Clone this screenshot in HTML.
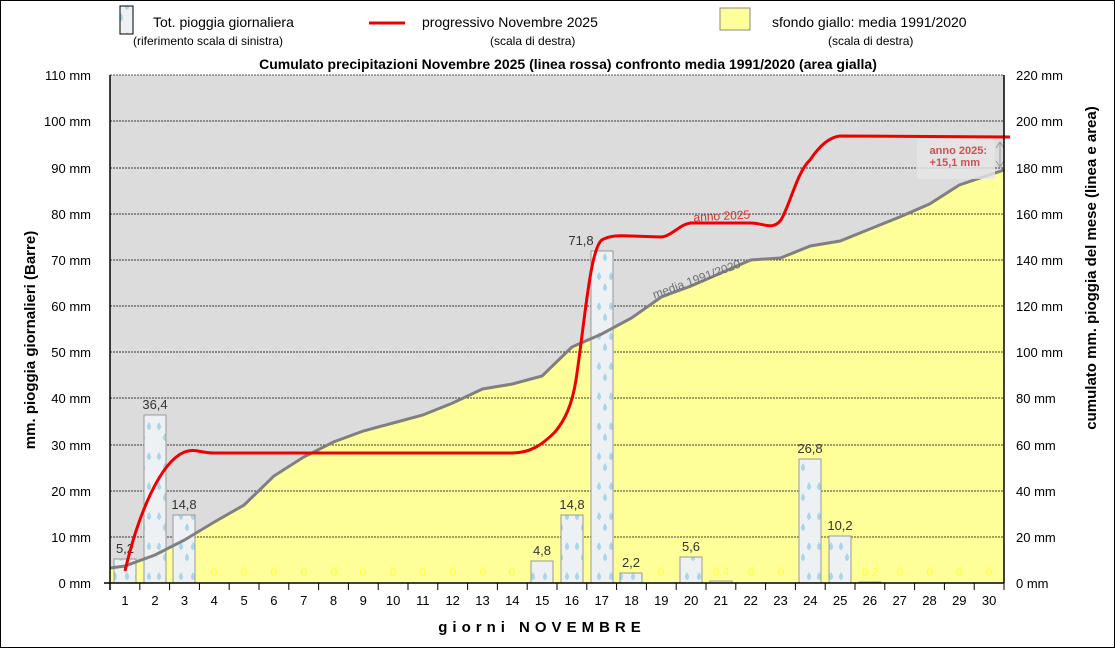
<!DOCTYPE html>
<html><head><meta charset="utf-8"><style>
body{margin:0;background:#fff}
svg{display:block;font-family:"Liberation Sans",sans-serif}
</style></head><body>
<svg width="1115" height="648" viewBox="0 0 1115 648" xmlns="http://www.w3.org/2000/svg">
<defs>
<pattern id="drops" width="22" height="30" patternUnits="userSpaceOnUse">
<rect width="22" height="30" fill="#eef1f4"/>
<path d="M5,2 q-4,6 0,8 q4,-2 0,-8z" fill="#a8d6ea"/>
<path d="M17,2 q-4,6 0,8 q4,-2 0,-8z" fill="#a8d6ea"/>
<path d="M11,13 q-4,6 0,8 q4,-2 0,-8z" fill="#a8d6ea"/>
</pattern>
</defs>
<rect x="0.5" y="0.5" width="1114" height="647" fill="#fff" stroke="#000"/>
<rect x="120" y="6" width="13" height="28" fill="url(#drops)" stroke="#000" stroke-width="1"/>
<text x="153" y="27" font-size="14">Tot. pioggia giornaliera</text>
<text x="133" y="45" font-size="12">(riferimento scala di sinistra)</text>
<line x1="369" y1="23" x2="405" y2="23" stroke="#e00" stroke-width="3"/>
<text x="422" y="27" font-size="14">progressivo Novembre 2025</text>
<text x="490" y="45" font-size="12">(scala di destra)</text>
<rect x="720" y="8" width="30" height="22" fill="#ffff99" stroke="#888"/>
<text x="772" y="27" font-size="14">sfondo giallo: media 1991/2020</text>
<text x="828" y="45" font-size="12">(scala di destra)</text>
<text x="568" y="69" font-size="14" font-weight="bold" text-anchor="middle">Cumulato precipitazioni  Novembre 2025 (linea rossa) confronto media 1991/2020 (area gialla)</text>
<rect x="110" y="75" width="894" height="508" fill="#dcdcdc"/>
<polygon fill="#ffff99" points="110,583 110,568 125,566 155,555 184.5,540 214.3,522 244.1,505 273.9,476 303.7,457 333.5,442 363.3,431 393.1,423 422.9,415 452.7,403 482.5,389 512.3,384 542.1,376 571.9,347 601.7,334 631.5,318 661.3,297 691.1,286 720.9,273 750.7,260 780.5,258 810.3,246 840.1,241 869.9,229 899.7,217 929.5,204 959.3,185 989.1,175 1004,170 1004,583"/>
<g stroke="#000" stroke-dasharray="2,1" stroke-width="0.7">
<line x1="110" y1="121" x2="1004" y2="121"/><line x1="110" y1="168" x2="1004" y2="168"/><line x1="110" y1="214" x2="1004" y2="214"/><line x1="110" y1="260" x2="1004" y2="260"/><line x1="110" y1="306" x2="1004" y2="306"/><line x1="110" y1="352" x2="1004" y2="352"/><line x1="110" y1="398" x2="1004" y2="398"/><line x1="110" y1="445" x2="1004" y2="445"/><line x1="110" y1="491" x2="1004" y2="491"/><line x1="110" y1="537" x2="1004" y2="537"/>
</g>
<line x1="110" y1="75" x2="1004" y2="75" stroke="#555" stroke-dasharray="2,1"/>
<g fill="url(#drops)" stroke="#999" stroke-width="1">
<rect x="114" y="559" width="22" height="24"/>
<rect x="144" y="415" width="22" height="168"/>
<rect x="173" y="515" width="22" height="68"/>
<rect x="531" y="561" width="22" height="22"/>
<rect x="561" y="515" width="22" height="68"/>
<rect x="591" y="251" width="22" height="332"/>
<rect x="620" y="573" width="22" height="10"/>
<rect x="680" y="557" width="22" height="26"/>
<rect x="710" y="581" width="22" height="2"/>
<rect x="799" y="459" width="22" height="124"/>
<rect x="829" y="536" width="22" height="47"/>
<rect x="859" y="582" width="22" height="1"/>
</g>
<g font-size="13" fill="#333" text-anchor="middle">
<text x="125" y="553">5,2</text><text x="155" y="409">36,4</text><text x="184" y="509">14,8</text>
<text x="542" y="555">4,8</text><text x="572" y="509">14,8</text><text x="581" y="245">71,8</text>
<text x="631" y="567">2,2</text><text x="691" y="551">5,6</text><text x="810" y="453">26,8</text><text x="840" y="530">10,2</text>
</g>
<g font-size="12" fill="#ffff33" text-anchor="middle">
<text x="214" y="576">0</text><text x="244" y="576">0</text><text x="274" y="576">0</text><text x="304" y="576">0</text><text x="334" y="576">0</text><text x="363" y="576">0</text><text x="393" y="576">0</text><text x="423" y="576">0</text><text x="453" y="576">0</text><text x="483" y="576">0</text><text x="512" y="576">0</text><text x="661" y="576">0</text><text x="721" y="576">0,4</text><text x="751" y="576">0</text><text x="781" y="576">0</text><text x="870" y="576">0,2</text><text x="900" y="576">0</text><text x="930" y="576">0</text><text x="959" y="576">0</text><text x="989" y="576">0</text>
</g>
<polyline fill="none" stroke="#808080" stroke-width="3" points="110,568 125,566 155,555 184.5,540 214.3,522 244.1,505 273.9,476 303.7,457 333.5,442 363.3,431 393.1,423 422.9,415 452.7,403 482.5,389 512.3,384 542.1,376 571.9,347 601.7,334 631.5,318 661.3,297 691.1,286 720.9,273 750.7,260 780.5,258 810.3,246 840.1,241 869.9,229 899.7,217 929.5,204 959.3,185 989.1,175 1004,170"/>
<path fill="none" stroke="#e00" stroke-width="3" d="M125,571 C138,515 160,462 184.5,452 C195,448 200,453 214,453 L512,453 C530,453 542,445 555,432 C565,420 572,405 576,380 C585,320 590,250 601.7,240 C612,234 625,236 631.5,236 L661,237 C672,236 680,224 691,223 L750,223 C765,223 772,231 781,220 C790,205 797,172 810,160 C820,145 830,137 840,136 L1010,137"/>
<text x="722" y="220" font-size="12" fill="#e03030" transform="rotate(-3 722 220)" text-anchor="middle">anno 2025</text>
<text x="698" y="283" font-size="12" fill="#707070" transform="rotate(-20 698 283)" text-anchor="middle">media 1991/2020</text>
<rect x="917" y="139" width="78" height="40" fill="#e6e6e6" opacity="0.8"/>
<text x="987" y="154" font-size="11" font-weight="bold" fill="#d05050" text-anchor="end">anno 2025:</text>
<text x="980" y="166" font-size="11" font-weight="bold" fill="#d05050" text-anchor="end">+15,1 mm</text>
<line x1="1000" y1="142" x2="1000" y2="167" stroke="#999"/>
<path d="M996,148 L1000,142 L1004,148 M996,161 L1000,167 L1004,161" fill="none" stroke="#999"/>
<line x1="110" y1="75" x2="110" y2="590" stroke="#000" stroke-width="1.5"/>
<line x1="1004" y1="75" x2="1004" y2="583" stroke="#000" stroke-width="1.5"/>
<line x1="104" y1="583" x2="1004" y2="583" stroke="#000" stroke-width="1.5"/>
<g stroke="#000">
<line x1="139.8" y1="583" x2="139.8" y2="590"/><line x1="169.6" y1="583" x2="169.6" y2="590"/><line x1="199.4" y1="583" x2="199.4" y2="590"/><line x1="229.2" y1="583" x2="229.2" y2="590"/><line x1="259" y1="583" x2="259" y2="590"/><line x1="288.8" y1="583" x2="288.8" y2="590"/><line x1="318.6" y1="583" x2="318.6" y2="590"/><line x1="348.4" y1="583" x2="348.4" y2="590"/><line x1="378.2" y1="583" x2="378.2" y2="590"/><line x1="408" y1="583" x2="408" y2="590"/><line x1="437.8" y1="583" x2="437.8" y2="590"/><line x1="467.6" y1="583" x2="467.6" y2="590"/><line x1="497.4" y1="583" x2="497.4" y2="590"/><line x1="527.2" y1="583" x2="527.2" y2="590"/><line x1="557" y1="583" x2="557" y2="590"/><line x1="586.8" y1="583" x2="586.8" y2="590"/><line x1="616.6" y1="583" x2="616.6" y2="590"/><line x1="646.4" y1="583" x2="646.4" y2="590"/><line x1="676.2" y1="583" x2="676.2" y2="590"/><line x1="706" y1="583" x2="706" y2="590"/><line x1="735.8" y1="583" x2="735.8" y2="590"/><line x1="765.6" y1="583" x2="765.6" y2="590"/><line x1="795.4" y1="583" x2="795.4" y2="590"/><line x1="825.2" y1="583" x2="825.2" y2="590"/><line x1="855" y1="583" x2="855" y2="590"/><line x1="884.8" y1="583" x2="884.8" y2="590"/><line x1="914.6" y1="583" x2="914.6" y2="590"/><line x1="944.4" y1="583" x2="944.4" y2="590"/><line x1="974.2" y1="583" x2="974.2" y2="590"/><line x1="1004" y1="583" x2="1004" y2="590"/>
</g>
<g font-size="13" text-anchor="middle">
<text x="125" y="605">1</text><text x="155" y="605">2</text><text x="184.5" y="605">3</text><text x="214.3" y="605">4</text><text x="244.1" y="605">5</text><text x="273.9" y="605">6</text><text x="303.7" y="605">7</text><text x="333.5" y="605">8</text><text x="363.3" y="605">9</text><text x="393.1" y="605">10</text><text x="422.9" y="605">11</text><text x="452.7" y="605">12</text><text x="482.5" y="605">13</text><text x="512.3" y="605">14</text><text x="542.1" y="605">15</text><text x="571.9" y="605">16</text><text x="601.7" y="605">17</text><text x="631.5" y="605">18</text><text x="661.3" y="605">19</text><text x="691.1" y="605">20</text><text x="720.9" y="605">21</text><text x="750.7" y="605">22</text><text x="780.5" y="605">23</text><text x="810.3" y="605">24</text><text x="840.1" y="605">25</text><text x="869.9" y="605">26</text><text x="899.7" y="605">27</text><text x="929.5" y="605">28</text><text x="959.3" y="605">29</text><text x="989.1" y="605">30</text>
</g>
<text x="542" y="632" font-size="15" font-weight="bold" text-anchor="middle" letter-spacing="5">giorni  NOVEMBRE</text>
<g font-size="13" text-anchor="end">
<text x="91" y="80">110 mm</text><text x="91" y="126">100 mm</text><text x="91" y="173">90 mm</text><text x="91" y="219">80 mm</text><text x="91" y="265">70 mm</text><text x="91" y="311">60 mm</text><text x="91" y="357">50 mm</text><text x="91" y="403">40 mm</text><text x="91" y="450">30 mm</text><text x="91" y="496">20 mm</text><text x="91" y="542">10 mm</text><text x="91" y="588">0 mm</text>
</g>
<g font-size="13">
<text x="1016" y="80">220 mm</text><text x="1016" y="126">200 mm</text><text x="1016" y="173">180 mm</text><text x="1016" y="219">160 mm</text><text x="1016" y="265">140 mm</text><text x="1016" y="311">120 mm</text><text x="1016" y="357">100 mm</text><text x="1016" y="403">80 mm</text><text x="1016" y="450">60 mm</text><text x="1016" y="496">40 mm</text><text x="1016" y="542">20 mm</text><text x="1016" y="588">0 mm</text>
</g>
<text transform="translate(35 340) rotate(-90)" font-size="15" font-weight="bold" text-anchor="middle">mm. pioggia giornalieri (Barre)</text>
<text transform="translate(1096 268) rotate(-90)" font-size="15" font-weight="bold" text-anchor="middle">cumulato mm. pioggia del mese (linea e area)</text>
</svg>
</body></html>
